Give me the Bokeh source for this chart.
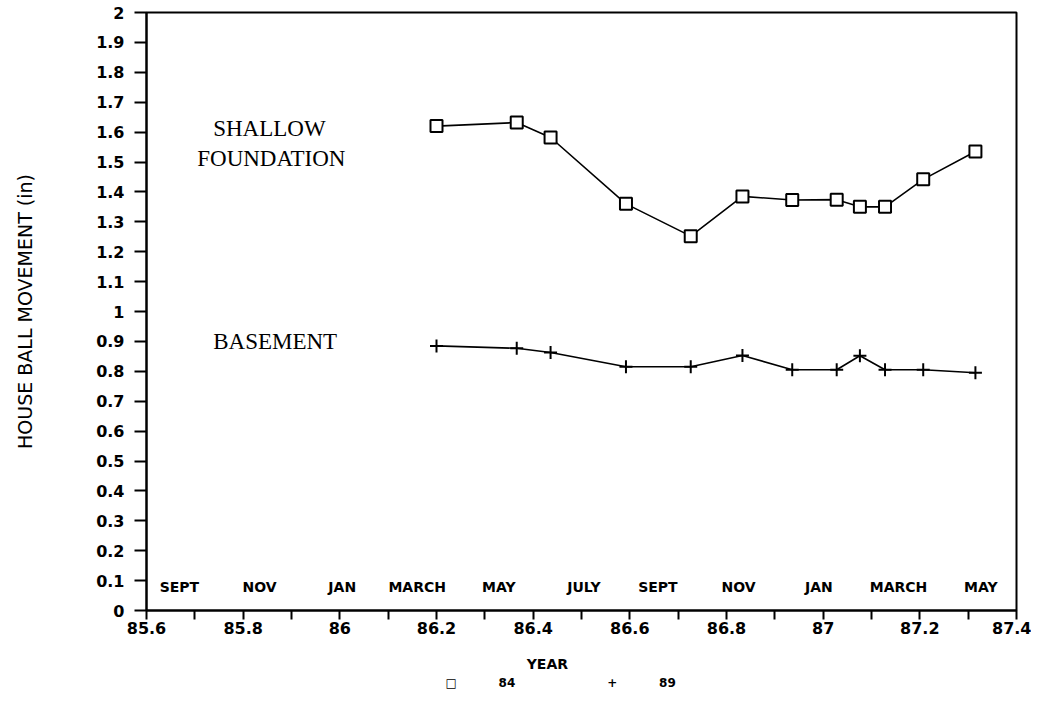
from bokeh.plotting import figure
from bokeh.models import FixedTicker, Label, Range1d, LinearAxis
from bokeh.core.properties import value
from bokeh.embed import file_html
from bokeh.resources import INLINE

# ---- data ----
years = [86.2, 86.366, 86.436, 86.592, 86.726, 86.833, 86.936, 87.028, 87.076, 87.128, 87.207, 87.315]
shallow_84 = [1.62, 1.632, 1.582, 1.36, 1.252, 1.385, 1.373, 1.374, 1.35, 1.35, 1.442, 1.535]
basement_89 = [0.885, 0.877, 0.863, 0.815, 0.815, 0.853, 0.805, 0.805, 0.852, 0.805, 0.805, 0.795]

x_ticks = [85.6, 85.8, 86.0, 86.2, 86.4, 86.6, 86.8, 87.0, 87.2, 87.4]
x_tick_labels = ["85.6", "85.8", "86", "86.2", "86.4", "86.6", "86.8", "87", "87.2", "87.4"]
x_minor_ticks = [85.7, 85.9, 86.1, 86.3, 86.5, 86.7, 86.9, 87.1, 87.3]

y_ticks = [0.0, 0.1, 0.2, 0.3, 0.4, 0.5, 0.6, 0.7, 0.8, 0.9, 1.0,
           1.1, 1.2, 1.3, 1.4, 1.5, 1.6, 1.7, 1.8, 1.9, 2.0]
y_tick_labels = ["0", "0.1", "0.2", "0.3", "0.4", "0.5", "0.6", "0.7", "0.8", "0.9", "1",
                 "1.1", "1.2", "1.3", "1.4", "1.5", "1.6", "1.7", "1.8", "1.9", "2"]

months = ["SEPT", "NOV", "JAN", "MARCH", "MAY", "JULY", "SEPT", "NOV", "JAN", "MARCH", "MAY"]
month_x = [85.668, 85.834, 86.005, 86.160, 86.329, 86.505, 86.658, 86.825, 86.991, 87.156, 87.326]
month_y = [0.08] * len(months)

series_names = ["84", "89"]
series_symbols = ["\u25a1", "+"]

nb = "\u00a0"

# ---- figure ----
p = figure(width=1031, height=692, output_backend="svg", toolbar_location=None,
           x_range=Range1d(85.6, 87.4), y_range=Range1d(0, 2),
           min_border_left=146, min_border_right=15, min_border_top=12, min_border_bottom=80)
p.background_fill_color = "white"
p.border_fill_color = "white"
p.grid.visible = False
p.outline_line_color = "black"
p.outline_line_width = 2

tick_font = "DejaVu Sans"

# x axis (title sits a little left of centre, as in the original)
p.xaxis.ticker = FixedTicker(ticks=x_ticks, minor_ticks=x_minor_ticks)
p.xaxis.major_label_overrides = {t: l for t, l in zip(x_ticks, x_tick_labels)}
p.xaxis.axis_label = "YEAR" + nb * 14
p.xaxis.axis_label_text_font = tick_font
p.xaxis.axis_label_text_font_style = "bold"
p.xaxis.axis_label_text_font_size = "14px"
p.xaxis.axis_label_standoff = 19
p.xaxis.major_tick_out = 9
p.xaxis.major_tick_in = 0
p.xaxis.minor_tick_out = 9
p.xaxis.minor_tick_in = 0
p.xaxis.major_label_standoff = 2

# y axis
p.yaxis.ticker = FixedTicker(ticks=y_ticks)
p.yaxis.major_label_overrides = {t: l for t, l in zip(y_ticks, y_tick_labels)}
p.yaxis.axis_label = "HOUSE BALL MOVEMENT (in)"
p.yaxis.axis_label_text_font = tick_font
p.yaxis.axis_label_text_font_style = "normal"
p.yaxis.axis_label_text_font_size = "19px"
p.yaxis.axis_label_standoff = 57
p.yaxis.major_tick_out = 12
p.yaxis.major_tick_in = 0
p.yaxis.minor_tick_out = 0
p.yaxis.minor_tick_in = 0
p.yaxis.major_label_standoff = 10

for ax in (p.xaxis[0], p.yaxis[0]):
    ax.axis_line_color = "black"
    ax.axis_line_width = 2
    ax.major_tick_line_color = "black"
    ax.major_tick_line_width = 2
    ax.minor_tick_line_color = "black"
    ax.minor_tick_line_width = 2
    ax.major_label_text_font = tick_font
    ax.major_label_text_font_style = "bold"
    ax.major_label_text_font_size = "16px"
    ax.major_label_text_color = "black"
    ax.axis_label_text_color = "black"

# series
p.line(years, shallow_84, line_color="black", line_width=1.6)
p.scatter(years, shallow_84, marker="square", size=12, fill_color="white",
          line_color="black", line_width=2)
p.line(years, basement_89, line_color="black", line_width=1.6)
p.scatter(years, basement_89, marker="cross", size=13, line_color="black", line_width=2)

# month labels inside plot
p.text(x=month_x, y=month_y, text=months, text_align="center", text_baseline="middle",
       text_font=value(tick_font), text_font_style="bold", text_font_size="14px",
       text_color="black")

# annotations
serif = "Liberation Serif"
for txt, x, y in [("SHALLOW", 85.738, 1.613), ("FOUNDATION", 85.705, 1.513), ("BASEMENT", 85.738, 0.90)]:
    p.add_layout(Label(x=x, y=y, text=txt, text_font=serif, text_font_size="23px",
                       text_font_style="normal", text_baseline="middle", text_align="left",
                       text_color="black"))

# legend row: a bare axis below the main one, whose title is the key
legend_text = (series_symbols[0] + nb * 10 + series_names[0] + nb * 22 +
               series_symbols[1] + nb * 10 + series_names[1] + nb * 10)
key_axis = LinearAxis(ticker=FixedTicker(ticks=[]), axis_line_color=None,
                      major_tick_out=0, major_tick_in=0, minor_tick_out=0, minor_tick_in=0,
                      major_label_text_font_size="0px", major_label_standoff=0,
                      axis_label=legend_text, axis_label_standoff=1,
                      axis_label_text_font=tick_font, axis_label_text_font_style="bold",
                      axis_label_text_font_size="12px", axis_label_text_color="black")
p.add_layout(key_axis, "below")

open("out.html", "w").write(file_html(p, INLINE))
